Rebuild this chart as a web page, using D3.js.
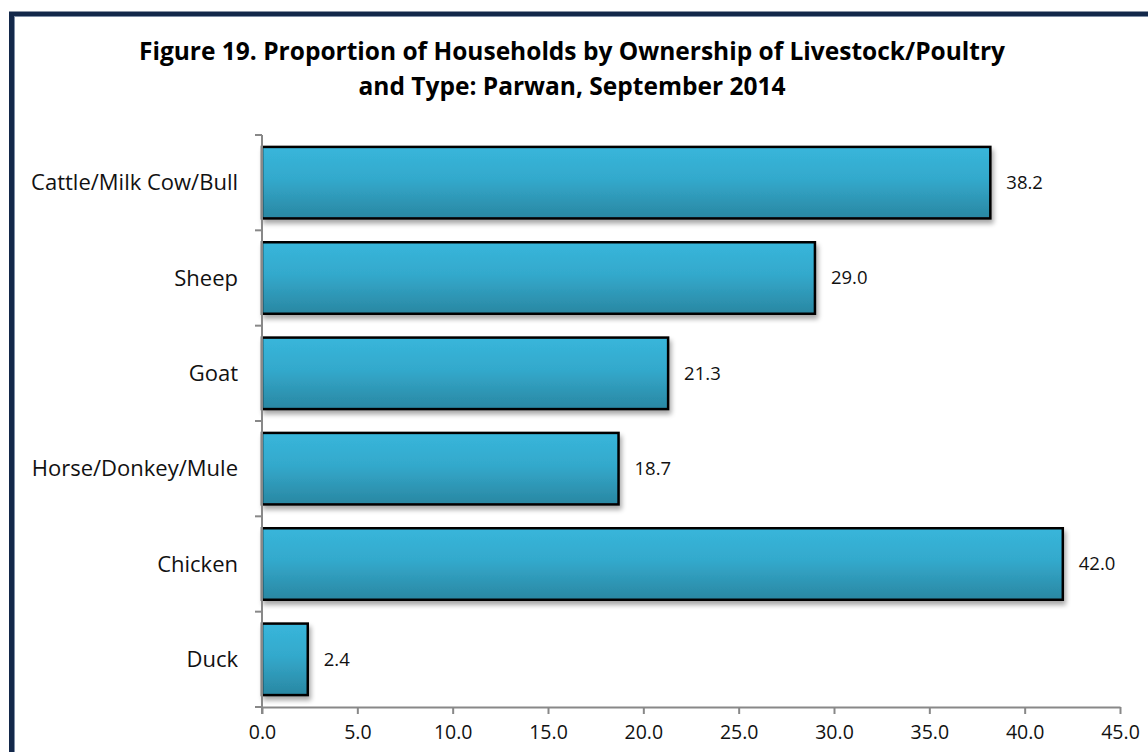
<!DOCTYPE html>
<html>
<head>
<meta charset="utf-8">
<script src="https://cdn.jsdelivr.net/npm/d3@7"></script>
<style>
  html, body { margin: 0; padding: 0; background: #ffffff; }
  svg { display: block; }
</style>
</head>
<body>
<svg id="chart" width="1148" height="752"></svg>
<script>
// Livestock / poultry ownership, Parwan, September 2014 (percent of households)
const categories = ["Cattle/Milk Cow/Bull", "Sheep", "Goat", "Horse/Donkey/Mule", "Chicken", "Duck"];
const values = [38.2, 29.0, 21.3, 18.7, 42.0, 2.4];
const xTicks = [0, 5, 10, 15, 20, 25, 30, 35, 40, 45];
const titleLines = [
  "Figure 19. Proportion of Households by Ownership of Livestock/Poultry",
  "and Type: Parwan, September 2014"
];

const W = 1148, H = 752;
const FONT = "'Open Sans', Lato, 'Liberation Sans', sans-serif";
const plot = { left: 262, right: 1120, top: 135, bottom: 707 };

const svg = d3.select("#chart");

// gradient fill and soft drop shadow for the bars
const defs = svg.append("defs");
const grad = defs.append("linearGradient")
  .attr("id", "barFill").attr("x1", 0).attr("y1", 0).attr("x2", 0).attr("y2", 1);
grad.append("stop").attr("offset", "0%").attr("stop-color", "#38b6db");
grad.append("stop").attr("offset", "45%").attr("stop-color", "#33a9cc");
grad.append("stop").attr("offset", "100%").attr("stop-color", "#2a87a2");

const shadow = defs.append("filter").attr("id", "barShadow")
  .attr("x", "-10%").attr("y", "-10%").attr("width", "130%").attr("height", "140%");
shadow.append("feGaussianBlur").attr("in", "SourceAlpha").attr("stdDeviation", 2.5).attr("result", "blur");
shadow.append("feOffset").attr("in", "blur").attr("dx", 2).attr("dy", 4).attr("result", "off");
shadow.append("feComponentTransfer").attr("in", "off").attr("result", "soft")
  .append("feFuncA").attr("type", "linear").attr("slope", 0.35);
const merge = shadow.append("feMerge");
merge.append("feMergeNode").attr("in", "soft");
merge.append("feMergeNode").attr("in", "SourceGraphic");

// outer frame
svg.append("rect")
  .attr("x", 11.5).attr("y", 14).attr("width", W + 40).attr("height", H + 40)
  .attr("fill", "none").attr("stroke", "#13284a").attr("stroke-width", 5);
svg.append("rect")
  .attr("x", 14.5).attr("y", 16.5).attr("width", W + 40).attr("height", H + 40)
  .attr("fill", "none").attr("stroke", "#7f8fa6").attr("stroke-width", 1);

// title
const title = svg.append("text")
  .attr("x", 572).attr("y", 60)
  .attr("text-anchor", "middle")
  .attr("font-family", FONT).attr("font-weight", "bold").attr("font-size", 24.5)
  .attr("fill", "#000");
title.selectAll("tspan").data(titleLines).join("tspan")
  .attr("x", 572).attr("dy", (d, i) => i === 0 ? 0 : 35)
  .text(d => d);

// scales
const x = d3.scaleLinear().domain([0, 45]).range([plot.left, plot.right]);
const y = d3.scaleBand().domain(categories).range([plot.top, plot.bottom])
  .paddingInner(0.25).paddingOuter(0.125);

// bars
const bars = svg.append("g").attr("filter", "url(#barShadow)");
bars.selectAll("rect").data(categories).join("rect")
  .attr("x", x(0))
  .attr("y", d => y(d))
  .attr("width", (d, i) => x(values[i]) - x(0))
  .attr("height", y.bandwidth())
  .attr("fill", "url(#barFill)")
  .attr("stroke", "#000").attr("stroke-width", 2.5);

// value labels
svg.append("g").selectAll("text").data(categories).join("text")
  .attr("x", (d, i) => x(values[i]) + 16)
  .attr("y", d => y(d) + y.bandwidth() / 2)
  .attr("dy", "0.35em")
  .attr("font-family", FONT).attr("font-size", 18.5).attr("fill", "#111")
  .text((d, i) => values[i].toFixed(1));

// y axis: category boundaries as tick marks
const yAxis = svg.append("g");
yAxis.append("line")
  .attr("x1", plot.left).attr("x2", plot.left)
  .attr("y1", plot.top).attr("y2", plot.bottom + 7)
  .attr("stroke", "#888").attr("stroke-width", 2);
const bounds = d3.range(categories.length + 1).map(i => plot.top + i * y.step());
yAxis.selectAll("line.tick").data(bounds).join("line").attr("class", "tick")
  .attr("x1", plot.left - 7).attr("x2", plot.left)
  .attr("y1", d => d).attr("y2", d => d)
  .attr("stroke", "#888").attr("stroke-width", 2);
yAxis.selectAll("text").data(categories).join("text")
  .attr("x", plot.left - 24)
  .attr("y", d => y(d) + y.bandwidth() / 2)
  .attr("dy", "0.35em")
  .attr("text-anchor", "end")
  .attr("font-family", FONT).attr("font-size", 22).attr("fill", "#111")
  .text(d => d);

// x axis
const xAxis = svg.append("g").attr("transform", `translate(0,${plot.bottom})`)
  .call(d3.axisBottom(x).tickValues(xTicks).tickFormat(d3.format(".1f")).tickSize(7).tickSizeOuter(0));
xAxis.select(".domain").attr("stroke", "#888").attr("stroke-width", 2);
xAxis.selectAll(".tick line").attr("stroke", "#888").attr("stroke-width", 2);
xAxis.selectAll(".tick text")
  .attr("font-family", FONT).attr("font-size", 19.5).attr("fill", "#111")
  .attr("dy", "1.15em");
</script>
</body>
</html>
